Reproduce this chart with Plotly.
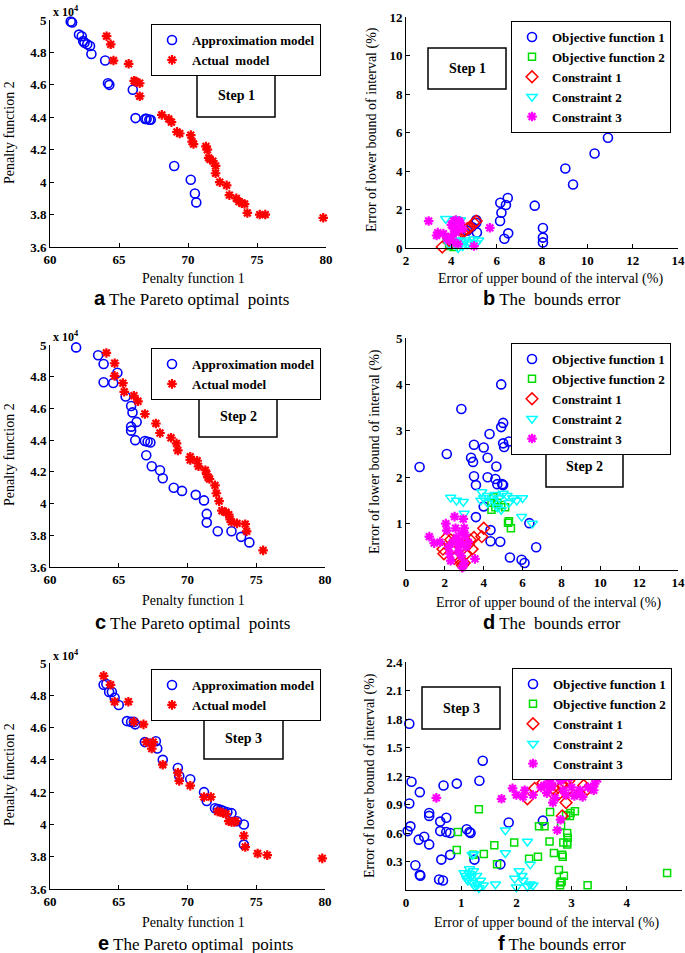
import plotly.graph_objects as go

W, H = 685, 953

# ---------------- DATA ----------------
# Panel a (Step 1) Pareto points, penalty function 2 in units of 1e4
a_approx_x = [61.5, 61.6, 62.1, 62.3, 62.4, 62.5, 62.7, 62.9, 63.0, 64.0, 64.2, 64.3, 66.0, 66.2, 66.9, 67.0, 67.2, 67.3, 69.0, 70.2, 70.5, 70.6]
a_approx_y = [4.99, 4.985, 4.91, 4.90, 4.87, 4.86, 4.85, 4.84, 4.79, 4.75, 4.61, 4.60, 4.57, 4.395, 4.39, 4.39, 4.385, 4.385, 4.10, 4.015, 3.93, 3.875]
a_actual_x = [64.1, 64.4, 64.6, 65.7, 66.1, 66.2, 66.5, 66.5, 68.1, 68.6, 68.8, 69.2, 69.4, 70.2, 70.3, 70.4, 71.3, 71.4, 71.5, 71.6, 71.8, 72.0, 72.0, 72.3, 72.8, 73.0, 73.5, 73.7, 73.9, 74.1, 74.3, 75.2, 75.6, 79.8]
a_actual_y = [4.90, 4.85, 4.75, 4.73, 4.625, 4.62, 4.61, 4.53, 4.415, 4.39, 4.37, 4.31, 4.30, 4.29, 4.25, 4.235, 4.22, 4.20, 4.15, 4.14, 4.13, 4.10, 4.055, 4.00, 3.98, 3.92, 3.90, 3.88, 3.87, 3.865, 3.81, 3.80, 3.80, 3.78]

# Panel c (Step 2)
c_approx_x = [61.9, 63.5, 63.9, 64.9, 63.9, 64.6, 65.5, 65.9, 66.0, 66.3, 65.9, 65.9, 66.2, 66.9, 67.1, 67.3, 67.0, 67.4, 68.0, 68.2, 69.0, 69.6, 70.6, 71.2, 71.4, 71.4, 72.2, 73.2, 73.9, 74.5]
c_approx_y = [4.985, 4.935, 4.88, 4.825, 4.765, 4.76, 4.675, 4.615, 4.575, 4.515, 4.485, 4.46, 4.40, 4.395, 4.39, 4.385, 4.305, 4.235, 4.21, 4.16, 4.10, 4.08, 4.055, 4.02, 3.935, 3.88, 3.825, 3.825, 3.79, 3.755]
c_actual_x = [64.1, 64.7, 64.7, 65.3, 65.4, 66.1, 66.4, 66.9, 67.7, 68.0, 68.8, 69.2, 69.3, 70.2, 70.2, 70.7, 70.8, 71.3, 71.4, 71.5, 71.6, 72.0, 72.1, 72.3, 72.5, 72.8, 73.0, 73.1, 73.2, 73.6, 74.2, 74.3, 75.5]
c_actual_y = [4.95, 4.885, 4.805, 4.76, 4.705, 4.68, 4.645, 4.565, 4.505, 4.445, 4.415, 4.38, 4.335, 4.295, 4.275, 4.27, 4.235, 4.21, 4.185, 4.165, 4.155, 4.115, 4.065, 4.015, 3.955, 3.945, 3.93, 3.90, 3.885, 3.875, 3.87, 3.825, 3.705]

# Panel e (Step 3)
e_approx_x = [63.9, 64.1, 64.3, 64.5, 64.7, 65.0, 65.6, 65.9, 66.1, 66.2, 66.9, 67.7, 67.8, 68.2, 69.3, 69.4, 70.2, 71.2, 71.4, 72.0, 72.2, 72.4, 72.6, 72.9, 73.2, 73.6, 74.1, 74.1]
e_approx_y = [4.865, 4.87, 4.82, 4.82, 4.785, 4.74, 4.64, 4.635, 4.635, 4.62, 4.51, 4.515, 4.47, 4.40, 4.35, 4.30, 4.28, 4.20, 4.145, 4.10, 4.095, 4.09, 4.085, 4.075, 4.07, 4.02, 4.00, 3.875]
e_actual_x = [63.9, 64.4, 64.7, 65.7, 66.1, 66.8, 67.0, 67.5, 67.4, 68.2, 69.3, 69.4, 70.2, 71.2, 71.7, 72.2, 72.4, 72.6, 72.8, 73.0, 73.2, 73.4, 73.5, 74.1, 74.2, 75.1, 75.8, 79.8]
e_actual_y = [4.92, 4.865, 4.76, 4.76, 4.635, 4.62, 4.51, 4.51, 4.47, 4.37, 4.32, 4.27, 4.24, 4.17, 4.17, 4.08, 4.075, 4.07, 4.065, 4.02, 4.015, 4.015, 4.02, 3.93, 3.86, 3.82, 3.81, 3.79]

# Panel b (Step 1) bounds error
b_obj1_x = [10.91, 10.32, 9.03, 9.37, 7.68, 6.49, 6.16, 6.41, 6.21, 6.15, 6.51, 6.34, 8.04, 8.04, 8.04, 5.10, 5.10, 5.13, 4.9, 4.7]
b_obj1_y = [5.73, 4.91, 4.13, 3.30, 2.20, 2.60, 2.35, 2.23, 1.83, 1.40, 0.76, 0.48, 1.04, 0.54, 0.29, 1.45, 1.31, 0.81, 1.1, 0.9]
b_obj2_x = [3.9, 4.0, 4.1, 3.8, 4.0]
b_obj2_y = [0.1, 0.3, 0.05, 0.45, 0.5]
b_con1_x = [3.6, 4.0, 4.3, 4.5, 4.6, 4.7, 4.8, 5.0, 5.1]
b_con1_y = [0.05, 0.3, 0.55, 0.8, 0.9, 1.0, 1.05, 1.3, 1.4]
b_con2_x = [3.75, 4.2, 4.4, 4.25, 4.2, 4.4, 4.6, 4.8, 5.0, 5.2, 4.5, 4.7, 3.9, 4.3, 5.1]
b_con2_y = [1.52, 1.5, 1.45, 1.35, 0.4, 0.35, 0.4, 0.3, 0.45, 0.4, 0.1, 0.2, 0.2, 0.0, 0.25]
b_con3_x = [3.0, 3.4, 3.35, 3.65, 5.7, 5.0, 4.1, 4.2, 4.35, 4.0, 4.1, 4.2, 3.9, 4.1, 4.3, 4.0, 4.4, 3.8, 4.5, 4.2]
b_con3_y = [1.4, 0.8, 0.65, 0.75, 1.05, 0.1, 1.4, 1.45, 1.4, 1.2, 1.0, 0.8, 0.4, 0.3, 0.2, 0.6, 1.3, 0.5, 1.0, 0.95]

# Panel d (Step 2)
d_obj1_x = [0.7, 2.85, 2.1, 3.35, 3.45, 3.5, 3.5, 3.6, 3.6, 4.0, 4.2, 4.2, 4.3, 4.9, 4.9, 5.0, 5.0, 5.05, 5.3, 4.65, 4.6, 4.7, 4.95, 5.0, 4.0, 4.35, 4.35, 4.85, 5.35, 5.95, 6.1, 6.35, 6.7]
d_obj1_y = [2.22, 3.47, 2.5, 2.42, 2.33, 2.7, 2.02, 1.83, 1.14, 2.64, 2.42, 2.0, 2.93, 4.0, 3.08, 3.17, 2.73, 2.65, 2.77, 2.23, 1.96, 1.85, 1.85, 1.83, 1.37, 0.86, 0.62, 0.61, 0.27, 0.22, 0.15, 1.01, 0.49]
d_obj2_x = [4.5, 4.4, 4.4, 4.6, 5.1, 5.3, 5.25, 5.4, 4.9, 4.7]
d_obj2_y = [1.57, 1.45, 1.3, 1.35, 1.35, 1.05, 1.02, 0.9, 1.4, 1.45]
d_con1_x = [1.9, 1.95, 2.05, 2.3, 2.8, 2.9, 2.8, 2.9, 3.0, 3.1, 3.3, 3.4, 3.5, 3.9, 4.0, 2.5, 2.7, 3.2, 2.6]
d_con1_y = [0.45, 0.35, 0.68, 0.65, 0.5, 0.45, 0.2, 0.1, 0.15, 0.35, 0.65, 0.45, 0.7, 0.72, 0.9, 0.25, 0.6, 0.55, 0.3]
d_con2_x = [2.3, 2.6, 2.95, 3.0, 3.9, 4.0, 3.85, 4.2, 4.2, 4.6, 4.8, 4.9, 5.0, 5.2, 5.5, 5.7, 6.0, 5.95, 6.5, 4.5, 5.3, 4.7]
d_con2_y = [1.56, 1.5, 1.47, 1.22, 1.68, 1.55, 1.5, 1.6, 1.45, 1.62, 1.55, 1.3, 1.65, 1.6, 1.55, 1.5, 1.55, 1.15, 1.0, 1.5, 1.45, 1.35]
d_con3_x = [1.2, 1.45, 1.75, 2.05, 2.1, 2.2, 2.25, 2.3, 2.5, 2.55, 2.6, 2.7, 2.8, 2.9, 2.95, 3.0, 3.05, 3.1, 2.85, 2.9, 3.0, 3.55, 2.7, 3.2, 2.4]
d_con3_y = [0.72, 0.58, 0.6, 1.0, 0.85, 0.5, 0.35, 0.2, 1.15, 0.9, 0.7, 0.55, 0.6, 0.8, 1.1, 0.9, 0.75, 0.5, 0.3, 0.05, 0.15, 0.24, 0.4, 0.6, 0.6]

# Panel f (Step 3)
f_obj1_x = [0.06, 0.1, 0.25, 0.06, 0.08, 0.03, 0.23, 0.33, 0.42, 0.42, 0.42, 0.17, 0.25, 0.26, 0.6, 0.67, 0.64, 0.62, 0.62, 0.68, 0.73, 0.73, 0.8, 0.8, 0.92, 1.1, 1.15, 1.17, 1.33, 1.39, 1.24, 1.71, 1.86, 2.48]
f_obj1_y = [1.75, 1.14, 1.03, 0.91, 0.67, 0.62, 0.53, 0.56, 0.78, 0.81, 0.48, 0.26, 0.16, 0.15, 0.11, 0.10, 0.32, 0.72, 0.62, 1.10, 0.76, 0.61, 0.60, 0.37, 1.12, 0.64, 0.61, 0.60, 1.15, 1.36, 0.32, 0.27, 0.71, 0.73]
f_obj2_x = [0.94, 0.92, 1.32, 1.41, 1.6, 1.65, 1.96, 2.23, 2.39, 2.41, 2.51, 2.61, 2.6, 2.68, 2.77, 2.79, 2.8, 2.86, 2.82, 2.83, 2.84, 2.85, 2.81, 2.9, 2.92, 2.92, 2.92, 2.93, 2.98, 3.06, 2.97, 3.29, 4.73, 1.22]
f_obj2_y = [0.61, 0.42, 0.85, 0.38, 0.47, 0.27, 0.50, 0.33, 0.35, 0.67, 0.67, 0.82, 0.51, 0.39, 0.21, 0.05, 0.08, 0.15, 0.09, 0.37, 0.35, 0.50, 0.68, 0.79, 0.60, 0.50, 0.48, 0.55, 0.81, 0.83, 0.78, 0.05, 0.18, 0.37]
f_con1_x = [2.2, 2.33, 2.48, 2.7, 2.75, 2.85, 2.88, 2.9, 2.92, 2.95, 3.22, 3.28, 2.83, 2.6, 2.65]
f_con1_y = [0.96, 1.07, 1.13, 1.05, 1.0, 1.1, 1.13, 0.92, 1.05, 1.15, 1.1, 1.06, 0.78, 1.1, 1.02]
f_con2_x = [1.8, 1.8, 2.2, 1.2, 1.23, 1.05, 1.08, 1.1, 1.12, 1.15, 1.18, 1.2, 1.25, 1.3, 1.32, 1.35, 1.4, 1.22, 1.28, 1.62, 1.97, 2.0, 2.05, 2.1, 2.12, 2.25, 2.2, 2.25, 2.3, 1.15]
f_con2_y = [0.63, 0.39, 0.51, 0.37, 0.38, 0.18, 0.15, 0.12, 0.10, 0.17, 0.14, 0.08, 0.04, 0.06, 0.02, 0.10, 0.05, 0.20, 0.15, 0.06, 0.12, 0.03, 0.20, 0.15, 0.10, 0.27, 0.04, 0.06, 0.05, 0.22]
f_con3_x = [0.55, 1.73, 2.4, 1.93, 2.0, 2.12, 2.15, 2.3, 2.45, 2.55, 2.65, 2.7, 2.66, 2.73, 2.8, 2.85, 2.9, 2.95, 3.0, 3.05, 3.1, 3.15, 3.3, 3.4, 3.42, 3.47, 2.74, 2.8, 2.6, 2.85, 3.2, 2.5, 2.62]
f_con3_y = [0.97, 0.96, 1.27, 1.07, 1.0, 0.98, 1.05, 1.0, 1.08, 1.02, 1.1, 0.97, 0.92, 1.2, 1.15, 1.05, 1.0, 1.18, 1.08, 0.99, 1.02, 1.05, 1.08, 1.05, 1.12, 1.17, 0.63, 0.74, 1.15, 1.18, 0.98, 1.1, 1.08]

pareto_names = ["Approximation model", "Actual  model"]
pareto_names_2 = ["Approximation model", "Actual model"]
error_names = ["Objective function 1", "Objective function 2", "Constraint 1", "Constraint 2", "Constraint 3"]
step_labels = ["Step 1", "Step 1", "Step 2", "Step 2", "Step 3", "Step 3"]
captions = [("a", "The Pareto optimal  points"), ("b", "The  bounds error"),
            ("c", "The Pareto optimal  points"), ("d", "The  bounds error"),
            ("e", "The Pareto optimal  points"), ("f", "The bounds error")]

# ---------------- LAYOUT HELPERS ----------------
SERIF = "Liberation Serif"
def px(x):
    return x / W
def py(y):
    return 1 - y / H

fig = go.Figure()

# panel geometry in pixels: (left, right, top, bottom)
panels = {
    1: (50, 326, 20, 247),
    2: (406, 678, 17, 248),
    3: (50, 325, 345, 567),
    4: (406, 678, 338, 570),
    5: (50, 325, 663, 889),
    6: (406, 682, 662, 890),
}

BLUE, RED, GREEN, CYAN, MAG = "#0000FF", "#FF0000", "#00DD00", "#00FFFF", "#FF00FF"

def circ(color):
    return dict(symbol="circle-open", size=9, color=color, line=dict(width=1.6, color=color))

def star(color):
    return dict(symbol="asterisk-open", size=8, color=color, line=dict(width=2.2, color=color))

def sq(color):
    return dict(symbol="square-open", size=7, color=color, line=dict(width=1.5, color=color))

def dia(color):
    return dict(symbol="diamond-open", size=9, color=color, line=dict(width=1.5, color=color))

def tri(color):
    return dict(symbol="triangle-down-open", size=9, color=color, line=dict(width=1.5, color=color))

def add(x, y, name, marker, idx, leg):
    sfx = "" if idx == 1 else str(idx)
    fig.add_trace(go.Scatter(x=x, y=y, mode="markers", name=name, marker=marker,
                             xaxis="x" + sfx, yaxis="y" + sfx, legend=leg, cliponaxis=False))

# Pareto panels
add(a_approx_x, a_approx_y, pareto_names[0], circ(BLUE), 1, "legend")
add(a_actual_x, a_actual_y, pareto_names[1], star(RED), 1, "legend")
add(c_approx_x, c_approx_y, pareto_names_2[0], circ(BLUE), 3, "legend3")
add(c_actual_x, c_actual_y, pareto_names_2[1], star(RED), 3, "legend3")
add(e_approx_x, e_approx_y, pareto_names_2[0], circ(BLUE), 5, "legend5")
add(e_actual_x, e_actual_y, pareto_names_2[1], star(RED), 5, "legend5")

# Error panels
for idx, leg, sets in [
    (2, "legend2", [(b_obj1_x, b_obj1_y), (b_obj2_x, b_obj2_y), (b_con1_x, b_con1_y), (b_con2_x, b_con2_y), (b_con3_x, b_con3_y)]),
    (4, "legend4", [(d_obj1_x, d_obj1_y), (d_obj2_x, d_obj2_y), (d_con1_x, d_con1_y), (d_con2_x, d_con2_y), (d_con3_x, d_con3_y)]),
    (6, "legend6", [(f_obj1_x, f_obj1_y), (f_obj2_x, f_obj2_y), (f_con1_x, f_con1_y), (f_con2_x, f_con2_y), (f_con3_x, f_con3_y)]),
]:
    markers = [circ(BLUE), sq(GREEN), dia(RED), tri(CYAN), star(MAG)]
    for (xx, yy), nm, mk in zip(sets, error_names, markers):
        add(xx, yy, nm, mk, idx, leg)

tickfont = dict(family=SERIF, size=13, color="black", weight="bold")
titlefont = dict(family=SERIF, size=14, color="black")

def axis_common():
    return dict(showline=True, linecolor="black", linewidth=1, mirror=False,
                ticks="inside", ticklen=4, tickcolor="black", showgrid=False,
                zeroline=False, tickfont=tickfont, automargin=False)

layout = dict(template="none", width=W, height=H, margin=dict(l=0, r=0, t=0, b=0, autoexpand=False),
              plot_bgcolor="white", paper_bgcolor="white", showlegend=True)

x_ranges = {1: [60, 80], 2: [2, 14], 3: [60, 80], 4: [0, 14], 5: [60, 80], 6: [0, 5]}
x_ticks = {1: [60, 65, 70, 75, 80], 2: [2, 4, 6, 8, 10, 12, 14], 3: [60, 65, 70, 75, 80],
           4: [0, 2, 4, 6, 8, 10, 12, 14], 5: [60, 65, 70, 75, 80], 6: [0, 1, 2, 3, 4, 5]}
y_ranges = {1: [3.6, 5], 2: [0, 12], 3: [3.6, 5], 4: [0, 5], 5: [3.6, 5], 6: [0, 2.4]}
y_ticks = {1: [3.6, 3.8, 4, 4.2, 4.4, 4.6, 4.8, 5], 2: [0, 2, 4, 6, 8, 10, 12],
           3: [3.6, 3.8, 4, 4.2, 4.4, 4.6, 4.8, 5], 4: [1, 2, 3, 4, 5],
           5: [3.6, 3.8, 4, 4.2, 4.4, 4.6, 4.8, 5], 6: [0.3, 0.6, 0.9, 1.2, 1.5, 1.8, 2.1, 2.4]}
y_ticktext = {1: ["3.6", "3.8", "4", "4.2", "4.4", "4.6", "4.8", "5"],
              6: ["0.3", "0.6", "0.9", "1.2", "1.5", "1.8", "2.1", "2.4"]}
y_ticktext[3] = y_ticktext[1]
y_ticktext[5] = y_ticktext[1]

for i, (l, r, t, b) in panels.items():
    sfx = "" if i == 1 else str(i)
    xa = axis_common()
    xa.update(domain=[px(l), px(r)], range=x_ranges[i], tickvals=x_ticks[i],
              anchor="y" + sfx)
    ya = axis_common()
    ya.update(domain=[py(b), py(t)], range=y_ranges[i], tickvals=y_ticks[i],
              anchor="x" + sfx)
    if i in y_ticktext:
        ya.update(ticktext=y_ticktext[i])
    layout["xaxis" + sfx] = xa
    layout["yaxis" + sfx] = ya

# legends
legend_pos = {"legend": (151, 24), "legend2": (511, 21), "legend3": (151, 348),
              "legend4": (511, 343), "legend5": (151, 669), "legend6": (512, 668)}
for k, (lx, ly) in legend_pos.items():
    layout[k] = dict(x=px(lx), y=py(ly), xanchor="left", yanchor="top",
                     bordercolor="black", borderwidth=1, bgcolor="white",
                     font=dict(family=SERIF, size=13, color="black", weight="bold"),
                     tracegroupgap=0)

fig.update_layout(**layout)

shapes = []
annotations = []
# Step boxes
step_boxes = [(197, 75, 275, 117), (428, 48, 506, 89), (199, 396, 277, 437),
              (546, 446, 623, 487), (204, 718, 283, 759), (422, 687, 500, 729)]
for (x0, y0, x1, y1), lab in zip(step_boxes, step_labels):
    shapes.append(dict(type="rect", xref="paper", yref="paper", x0=px(x0), x1=px(x1),
                       y0=py(y1), y1=py(y0), line=dict(color="black", width=1.5),
                       fillcolor="white", layer="below"))
    annotations.append(dict(xref="paper", yref="paper", x=px((x0 + x1) / 2), y=py((y0 + y1) / 2),
                            xanchor="center", yanchor="middle",
                            text="<b>%s</b>" % lab, showarrow=False,
                            font=dict(family=SERIF, size=14, color="black")))

# axis titles
xtitles = [(193, 278), (550, 279), (193, 600), (548, 603), (193, 922), (546, 923)]
ytitles = [(9, 133), (372, 130), (9, 455), (375, 452), (9, 775), (370, 776)]
xt_text = ["Penalty function 1", "Error of upper bound of the interval (%)"] * 3
yt_text = ["Penalty function 2", "Error of lower bound of interval (%)"] * 3
for (x, y), t in zip(xtitles, xt_text):
    annotations.append(dict(xref="paper", yref="paper", x=px(x), y=py(y), text=t,
                            xanchor="center", yanchor="middle",
                            showarrow=False, font=titlefont))
for (x, y), t in zip(ytitles, yt_text):
    annotations.append(dict(xref="paper", yref="paper", x=px(x), y=py(y), text=t, textangle=-90,
                            xanchor="center", yanchor="middle",
                            showarrow=False, font=titlefont))

# exponent labels
for y in [12, 336, 655]:
    annotations.append(dict(xref="paper", yref="paper", x=px(51), y=py(y), xanchor="left",
                            yanchor="middle",
                            text="<b>x 10<sup>4</sup></b>", showarrow=False,
                            font=dict(family=SERIF, size=12, color="black")))

# captions
cap_pos = [(191, 298), (552, 298), (192, 622), (552, 622), (195, 943), (562, 943)]
for (x, y), (letter, txt) in zip(cap_pos, captions):
    annotations.append(dict(xref="paper", yref="paper", x=px(x), y=py(y),
                            xanchor="center", yanchor="middle",
                            text="<span style='font-family:Liberation Sans;font-weight:bold;font-size:20px'>%s</span> %s" % (letter, txt),
                            showarrow=False, font=dict(family=SERIF, size=17, color="black")))

fig.update_layout(shapes=shapes, annotations=annotations)
fig.write_html("out.html", config={"displayModeBar": False},
               post_script="document.body.style.margin='0';document.body.style.overflow='hidden';")
